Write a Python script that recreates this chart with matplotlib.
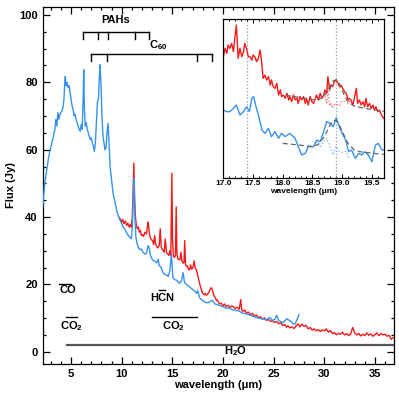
import numpy as np
import matplotlib
matplotlib.use('Agg')
import matplotlib.pyplot as plt
from matplotlib.ticker import MultipleLocator

plt.rcParams['font.family'] = ['Liberation Sans', 'DejaVu Sans']
plt.rcParams['font.weight'] = 'bold'
plt.rcParams['mathtext.fontset'] = 'custom'
plt.rcParams['mathtext.rm'] = 'Liberation Sans:bold'
plt.rcParams['mathtext.it'] = 'Liberation Sans:bold'
plt.rcParams['mathtext.bf'] = 'Liberation Sans:bold'
plt.rcParams['mathtext.default'] = 'rm'

# ---- main spectra (wavelength in um, flux in Jy)
blue_wl = [2.2, 2.4, 2.6, 2.8, 2.95, 3.1, 3.25, 3.4, 3.5, 3.6, 3.7, 3.8, 3.9, 4.0, 4.1, 4.2, 4.3, 4.38,
           4.43, 4.5, 4.6, 4.7, 4.8, 4.9, 5.0, 5.1, 5.2, 5.3, 5.4, 5.5, 5.6, 5.7, 5.8, 5.9, 6.0, 6.1,
           6.2, 6.25, 6.32, 6.4, 6.5, 6.6, 6.7, 6.8, 6.9, 7.0, 7.1, 7.2, 7.3, 7.4, 7.5, 7.6, 7.7, 7.8,
           7.86, 7.95, 8.05, 8.15, 8.25, 8.35, 8.45, 8.55, 8.65, 8.75, 8.85, 9.0, 9.15, 9.3, 9.5, 9.7,
           9.85, 10.0, 10.15, 10.3, 10.5, 10.65, 10.8, 10.95, 11.05, 11.15, 11.22, 11.3, 11.4, 11.5,
           11.65, 11.8, 11.95, 12.1, 12.3, 12.45, 12.6, 12.7, 12.85, 13.0, 13.15, 13.3, 13.45, 13.6,
           13.7, 13.85, 14.0, 14.1, 14.25, 14.4, 14.6, 14.75, 14.9, 14.97, 15.05, 15.25, 15.45, 15.6,
           15.74, 15.9, 16.06, 16.2, 16.4, 16.6, 16.8, 17.05, 17.2, 17.4, 17.5, 17.7, 18.0, 18.3, 18.6,
           18.9, 19.2, 19.5, 19.8, 20.1, 20.35, 20.6, 20.9, 21.2, 21.45, 21.65, 21.9, 22.2, 22.5, 22.75,
           22.96, 23.2, 23.5, 23.8, 24.0, 24.3, 24.6, 24.9, 25.1, 25.3, 25.5, 25.7, 25.9, 26.1, 26.3,
           26.5, 26.7, 26.9, 27.1, 27.3, 27.5]
blue_flux = [43, 50, 54, 58, 60, 62, 64, 66, 69, 67, 71, 69, 70.5, 71, 71.5, 72.5, 75, 80,
             81.7, 79, 80, 78.5, 79, 77, 75, 73, 72, 70, 70.5, 69, 68, 67, 66, 65.5, 67.5, 66,
             76, 83.7, 72, 67, 68, 66, 65, 64, 63, 63.5, 62, 61, 59.5, 62, 68, 74, 75, 82,
             85.2, 80, 70, 64, 62, 60, 60.5, 65, 67.8, 62, 55, 51, 47, 45, 42, 40,
             39, 38, 37, 36.5, 35.3, 34.5, 34, 33.5, 37, 47, 51.5, 40, 34, 32.3,
             31, 30.3, 30.5, 29.5, 29, 29.3, 31.5, 31, 28.5, 27.5, 27, 26.8, 26.4, 27.5,
             25.5, 25.3, 24, 23.4, 23, 22.8, 22.4, 24, 29, 26, 22, 21.4, 21.2, 20.5,
             20.4, 21, 23.5, 20.5, 20, 19.5, 19, 18.4, 18, 17.3, 18.2, 16.0, 15.2, 14.6, 14.6,
             15.3, 14.2, 13.9, 13.6, 13.2, 12.9, 13, 12.5, 12.3, 12.2, 12, 11.5, 11.3, 11, 10.8,
             10.5, 10.3, 10, 9.8, 9.7, 9.5, 10.2, 9.3, 9.6, 10.8, 9.2, 9.0, 8.6, 9.2, 9.8,
             9.4, 9.0, 8.3, 8.2, 9.5, 11]

red_wl = [9.7, 9.85, 10.0, 10.1, 10.2, 10.35, 10.5, 10.6, 10.75, 10.85, 10.95, 11.05, 11.12, 11.2,
          11.27, 11.35, 11.45, 11.55, 11.65, 11.75, 11.85, 11.95, 12.05, 12.15, 12.3, 12.45, 12.55,
          12.62, 12.7, 12.8, 12.95, 13.05, 13.15, 13.25, 13.35, 13.45, 13.55, 13.7, 13.8, 13.9, 14.0,
          14.1, 14.2, 14.3, 14.43, 14.55, 14.65, 14.75, 14.85, 14.95, 15.02, 15.1, 15.2, 15.3, 15.38,
          15.45, 15.55, 15.65, 15.75, 15.85, 15.95, 16.05, 16.15, 16.22, 16.3, 16.4, 16.5, 16.6, 16.7,
          16.8, 16.9, 17.0, 17.05, 17.15, 17.25, 17.35, 17.45, 17.55, 17.65, 17.75, 17.85, 17.95,
          18.05, 18.15, 18.25, 18.35, 18.45, 18.55, 18.65, 18.75, 18.85, 18.95, 19.05, 19.15, 19.25,
          19.35, 19.45, 19.55, 19.7, 19.85, 20.0, 20.15, 20.3, 20.5, 20.7, 20.85, 21.0, 21.2, 21.4,
          21.6, 21.75, 21.85, 22.0, 22.15, 22.3, 22.5, 22.7, 22.9, 23.1, 23.3, 23.5, 23.7, 23.9, 24.1,
          24.3, 24.5, 24.7, 24.9, 25.1, 25.3, 25.5, 25.7, 25.9, 26.1, 26.25, 26.4, 26.6, 26.8, 27.0,
          27.2, 27.4, 27.6, 27.8, 28.0, 28.2, 28.4, 28.6, 28.8, 29.0, 29.2, 29.4, 29.6, 29.8, 30.0,
          30.2, 30.4, 30.6, 30.8, 31.0, 31.2, 31.4, 31.6, 31.8, 32.0, 32.2, 32.4, 32.6, 32.8, 33.0,
          33.2, 33.4, 33.6, 33.8, 34.0, 34.2, 34.4, 34.6, 34.8, 35.0, 35.2, 35.4, 35.6, 35.8, 36.0,
          36.2, 36.4, 36.6, 36.8]
red_flux = [40, 39.5, 38.5, 39.3, 38, 38.8, 37.5, 38.2, 37, 37.8, 37, 40, 48, 56,
            46, 40, 37.5, 36.5, 37, 35.5, 36, 34.5, 34.8, 34.2, 35.5, 35, 37.5,
            38.5, 36, 34, 33.2, 33, 31.8, 34.5, 32, 31.3, 30.8, 31.5, 36.5, 31, 30.5,
            30, 29.6, 33.5, 29.3, 29, 28.6, 30, 28.5, 53, 33, 28.5, 28, 28.6, 43,
            29, 27.5, 27.4, 27.3, 29.5, 27, 26.3, 26.5, 33, 26, 25.3, 25.5, 24.4, 24.3,
            25.8, 24.5, 24.8, 25.3, 27, 24.8, 24.5, 23.5, 22.0, 20.8, 19.6, 18.6, 17.6,
            17.2, 16.9, 17.3, 16.8, 17.0, 17.4, 17.9, 18.8, 19.0, 18.3, 17.3, 16.3, 16.0,
            15.2, 15.4, 14.6, 14.2, 14.4, 13.6, 14.2, 13.4, 13.8, 13.1, 13.6, 13.4, 12.8, 13.2,
            12.6, 15.5, 12.4, 12.0, 12.4, 11.5, 11.8, 11.0, 11.4, 10.6, 10.9, 10.1, 10.4, 9.7, 10.0,
            9.3, 9.6, 9.0, 9.2, 8.7, 9.0, 8.3, 8.6, 7.8, 8.1, 7.3, 7.7, 7.1, 7.4, 6.9,
            7.6, 8.3, 7.4, 8.2, 7.5, 7.9, 6.8, 7.2, 6.4, 6.8, 6.2, 6.6, 6.0, 6.5, 6.2,
            6.8, 5.8, 6.3, 5.4, 5.7, 5.0, 5.5, 5.2, 5.8, 5.0, 5.4, 4.8, 5.3, 7.2, 5.6,
            5.0, 5.4, 4.7, 5.2, 4.8, 5.6, 4.9, 5.3, 4.6, 5.1, 5.6, 4.8, 5.4, 5.0, 5.2,
            4.6, 4.9, 3.7, 4.2]

# ---- inset: 17.0-19.7 um zoom (flux offset / rescaled, arbitrary units)
ins_red_wl = [17.0, 17.03, 17.06, 17.08, 17.11, 17.14, 17.17, 17.2, 17.22, 17.25, 17.28, 17.31, 17.34,
              17.36, 17.39, 17.42, 17.45, 17.48, 17.5, 17.53, 17.56, 17.59, 17.62, 17.65, 17.67, 17.7,
              17.73, 17.76, 17.79, 17.81, 17.84, 17.87, 17.9, 17.93, 17.96, 17.98, 18.01, 18.04, 18.07,
              18.1, 18.12, 18.15, 18.18, 18.21, 18.24, 18.26, 18.29, 18.32, 18.35, 18.38, 18.4, 18.43,
              18.46, 18.49, 18.52, 18.54, 18.57, 18.6, 18.63, 18.66, 18.69, 18.71, 18.74, 18.76, 18.79,
              18.81, 18.84, 18.87, 18.9, 18.93, 18.96, 18.98, 19.01, 19.04, 19.07, 19.1, 19.12, 19.15,
              19.18, 19.21, 19.24, 19.26, 19.29, 19.32, 19.35, 19.38, 19.4, 19.43, 19.46, 19.49, 19.52,
              19.54, 19.57, 19.6, 19.63, 19.66, 19.7]
ins_red_flux = [76.4, 81.7, 78.5, 83.8, 81.7, 84.8, 79.6, 90.1, 96.4, 75.4, 81.7, 76.4, 79.6,
                84.8, 81.7, 76.4, 76.4, 74.3, 77.5, 76.4, 73.3, 75.4, 80.6, 71.2, 62.7, 64.8,
                61.7, 63.8, 58.5, 61.7, 57.5, 56.4, 59.6, 52.2, 55.4, 51.2, 52.2, 50.1, 53.3,
                49.1, 51.2, 48.0, 52.2, 49.1, 50.1, 46.9, 51.2, 49.1, 51.2, 46.9, 50.1, 45.9,
                51.2, 48.0, 46.9, 49.1, 52.2, 49.1, 53.3, 50.1, 52.2, 55.4, 53.3, 63.8, 55.4,
                58.5, 57.5, 60.6, 61.7, 59.6, 57.5, 58.5, 56.4, 54.3, 53.3, 49.1, 50.1, 49.1,
                45.9, 51.2, 56.4, 46.9, 49.1, 45.9, 48.0, 44.8, 50.1, 44.8, 46.9, 43.8, 45.9,
                42.7, 44.8, 41.7, 42.7, 39.6, 37.5]
ins_blue_wl = [17.0, 17.06, 17.11, 17.17, 17.22, 17.28, 17.34, 17.39, 17.44, 17.48, 17.51, 17.55, 17.59,
               17.65, 17.7, 17.76, 17.81, 17.87, 17.93, 17.98, 18.04, 18.12, 18.21, 18.26, 18.32, 18.38,
               18.43, 18.52, 18.57, 18.63, 18.69, 18.74, 18.8, 18.85, 18.9, 18.94, 19.0, 19.06, 19.11,
               19.16, 19.22, 19.28, 19.33, 19.38, 19.44, 19.5, 19.56, 19.61, 19.67, 19.7]
ins_blue_flux = [42.7, 41.7, 41.7, 43.8, 45.9, 39.6, 41.7, 44.8, 41.7, 50.1, 51.2, 44.8, 39.6,
                 30.1, 28.0, 31.2, 25.9, 29.1, 24.8, 28.0, 25.9, 28.0, 24.8, 19.6, 14.3, 15.4,
                 19.6, 19.6, 23.8, 22.7, 29.1, 35.4, 34.3, 32.2, 37.9, 33.3, 28.0, 23.8, 16.4,
                 17.5, 12.2, 15.4, 14.3, 16.4, 14.3, 10.1, 20.6, 21.7, 17.5, 17.5]

# fitted profiles (continuum + 18.9 um band) and straight continua
red_fit_wl = [18.05, 18.3, 18.5, 18.6, 18.7, 18.75, 18.8, 18.85, 18.9, 18.95, 19.0, 19.05, 19.1,
              19.2, 19.3, 19.5, 19.7]
red_fit = [52.1, 50.6, 49.3, 49.2, 51.5, 54.5, 58.2, 61.2, 61.8, 59.5, 55.3, 51.1, 48.0,
           45.3, 44.4, 43.1, 41.9]
red_cont_wl = [18.05, 19.7]
red_cont = [52.1, 41.9]
blue_fit_wl = [18.0, 18.3, 18.5, 18.6, 18.7, 18.75, 18.8, 18.85, 18.9, 18.95, 19.0, 19.05, 19.1,
               19.2, 19.3, 19.5, 19.7]
blue_fit = [21.7, 20.5, 19.7, 21.1, 25.9, 29.7, 33.6, 36.0, 36.1, 33.6, 29.6, 25.2, 21.6,
            17.7, 16.4, 15.5, 14.7]
blue_cont_wl = [18.0, 19.7]
blue_cont = [21.7, 14.7]
red_resid_range = (18.7, 19.17)
blue_resid_range = (18.55, 19.12)
marker_lines = [17.4, 18.9]

RED = '#f21a1a'
BLUE = '#3792ee'
FS = 8

fig = plt.figure(figsize=(3.99, 3.99), dpi=100)
ax = fig.add_axes([0.107, 0.088, 0.881, 0.894])

ax.plot(blue_wl, blue_flux, color=BLUE, lw=1.0, zorder=3)
ax.plot(red_wl, red_flux, color=RED, lw=1.0, zorder=2)

ax.set_xlim(2.2, 36.9)
ax.set_ylim(-3.6, 102.3)
ax.xaxis.set_major_locator(MultipleLocator(5))
ax.xaxis.set_minor_locator(MultipleLocator(1))
ax.yaxis.set_major_locator(MultipleLocator(20))
ax.yaxis.set_minor_locator(MultipleLocator(5))
ax.tick_params(which='both', direction='in', top=True, right=True, labelsize=FS, width=0.9)
ax.tick_params(which='major', length=5)
ax.tick_params(which='minor', length=2.5)
for s in ax.spines.values():
    s.set_linewidth(0.9)
ax.set_xlabel('wavelength (μm)', fontsize=FS, fontweight='bold', labelpad=1)
ax.set_ylabel('Flux (Jy)', fontsize=FS, fontweight='bold', labelpad=2)

# band brackets
pah_ticks = [6.2, 7.7, 8.6, 11.3, 12.7]
c60_ticks = [7.0, 8.5, 17.4, 18.9]
ax.plot([pah_ticks[0], pah_ticks[-1]], [95, 95], color='k', lw=1)
for t in pah_ticks:
    ax.plot([t, t], [95, 93], color='k', lw=1)
ax.text(9.4, 97.0, 'PAHs', fontsize=FS, fontweight='bold', ha='center', va='bottom')
ax.plot([c60_ticks[0], c60_ticks[-1]], [88.3, 88.3], color='k', lw=1)
for t in c60_ticks:
    ax.plot([t, t], [88.3, 86.3], color='k', lw=1)
ax.text(13.6, 89.0, 'C$_{60}$', fontsize=FS, fontweight='bold', ha='center', va='bottom')

# molecular bands
ax.plot([3.8, 5.0], [20.2, 20.2], color='k', lw=1)
ax.text(4.7, 18.4, 'CO', fontsize=FS, fontweight='bold', ha='center', va='center')
ax.plot([4.5, 5.55], [10.2, 10.2], color='k', lw=1)
ax.text(5.0, 7.6, 'CO$_2$', fontsize=FS, fontweight='bold', ha='center', va='center')
ax.plot([13.7, 14.3], [18.4, 18.4], color='k', lw=1)
ax.text(14.0, 15.9, 'HCN', fontsize=FS, fontweight='bold', ha='center', va='center')
ax.plot([13.0, 17.4], [10.2, 10.2], color='k', lw=1)
ax.text(15.1, 7.6, 'CO$_2$', fontsize=FS, fontweight='bold', ha='center', va='center')
ax.plot([4.6, 36.9], [2.1, 2.1], color='#555555', lw=1.6)
ax.text(21.2, 0.1, 'H$_2$O', fontsize=FS, fontweight='bold', ha='center', va='center')

# inset
ins = fig.add_axes([0.5597, 0.5546, 0.402, 0.397])
for x0 in marker_lines:
    ins.axvline(x0, color='#8c9cb0', ls=':', lw=0.9)
ins.plot(ins_red_wl, ins_red_flux, color=RED, lw=1.0)
ins.plot(ins_blue_wl, ins_blue_flux, color=BLUE, lw=1.0)
ins.plot(red_fit_wl, red_fit, color='#666666', lw=0.9, dashes=(4, 2.5))
ins.plot(blue_fit_wl, blue_fit, color='#666666', lw=0.9, dashes=(4, 2.5))


def residual(wl, flux, fit_wl, fit, cont_wl, cont, rng):
    wl = np.asarray(wl)
    flux = np.asarray(flux)
    m = (wl >= rng[0]) & (wl <= rng[1])
    band = np.interp(wl[m], fit_wl, fit) - np.interp(wl[m], cont_wl, cont)
    return wl[m], flux[m] - band


rx, ry = residual(ins_red_wl, ins_red_flux, red_fit_wl, red_fit, red_cont_wl, red_cont, red_resid_range)
ins.plot(rx, ry, color=RED, ls=':', lw=0.9, alpha=0.7)
bx, by = residual(ins_blue_wl, ins_blue_flux, blue_fit_wl, blue_fit, blue_cont_wl, blue_cont, blue_resid_range)
ins.plot(bx, by, color=BLUE, ls=':', lw=0.9, alpha=0.7)

ins.set_xlim(17.0, 19.7)
ins.set_ylim(0, 100)
ins.xaxis.set_major_locator(MultipleLocator(0.5))
ins.xaxis.set_minor_locator(MultipleLocator(0.1))
ins.xaxis.set_major_formatter(matplotlib.ticker.FormatStrFormatter('%.1f'))
ins.set_yticks([])
ins.tick_params(axis='x', which='both', direction='in', top=True, labelsize=6, width=0.7, pad=2)
ins.tick_params(axis='x', which='major', length=3)
ins.tick_params(axis='x', which='minor', length=1.5)
for s in ins.spines.values():
    s.set_linewidth(0.9)
ins.set_xlabel('wavelength (μm)', fontsize=6, fontweight='bold', labelpad=0.5)

fig.savefig('out.png', dpi=100)
